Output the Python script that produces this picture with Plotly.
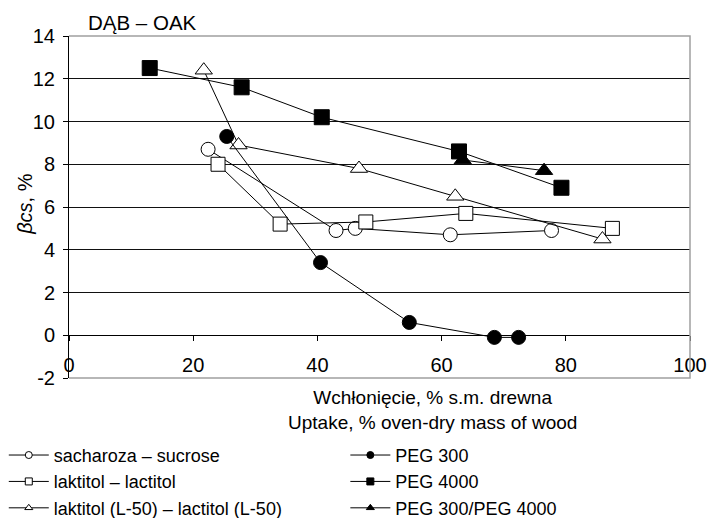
import plotly.graph_objects as go

# Uptake (% oven-dry mass of wood) and beta_cs (%) for oak treated with each agent
sucrose_x = [22.4, 43.0, 46.1, 61.4, 77.7]
sucrose_y = [8.7, 4.9, 5.0, 4.7, 4.9]

lactitol_x = [24.0, 34.0, 47.8, 63.9, 87.5]
lactitol_y = [8.0, 5.2, 5.3, 5.7, 5.0]

lactitol50_x = [21.7, 27.3, 46.7, 62.2, 85.9]
lactitol50_y = [12.4, 8.9, 7.8, 6.5, 4.5]

peg300_x = [25.4, 40.5, 54.8, 68.5, 72.4]
peg300_y = [9.3, 3.4, 0.6, -0.1, -0.1]

peg4000_x = [13.0, 27.8, 40.7, 62.8, 79.3]
peg4000_y = [12.5, 11.6, 10.2, 8.6, 6.9]

pegmix_x = [63.4, 76.5]
pegmix_y = [8.2, 7.7]

series_names = [
    "sacharoza – sucrose",
    "laktitol – lactitol",
    "laktitol (L-50) – lactitol (L-50)",
    "PEG 300",
    "PEG 4000",
    "PEG 300/PEG 4000",
]

x_ticks = [0, 20, 40, 60, 80, 100]
y_ticks = [-2, 0, 2, 4, 6, 8, 10, 12, 14]
y_tick_labels = ["-2", "0", "2", "4", "6", "8", "10", "12", "14"]

FONT = "Liberation Sans, Arial, sans-serif"

# sugar-type agents in the left legend column, PEG agents in the right one
series = [
    (sucrose_x, sucrose_y, series_names[0], "circle", "white", 14, "legend"),
    (lactitol_x, lactitol_y, series_names[1], "square", "white", 14, "legend"),
    (lactitol50_x, lactitol50_y, series_names[2], "triangle-up", "white", 15, "legend"),
    (peg300_x, peg300_y, series_names[3], "circle", "black", 14, "legend2"),
    (peg4000_x, peg4000_y, series_names[4], "square", "black", 15, "legend2"),
    (pegmix_x, pegmix_y, series_names[5], "triangle-up", "black", 15, "legend2"),
]

fig = go.Figure()

for xs, ys, name, sym, fill, size, leg in series:
    fig.add_trace(go.Scatter(
        x=xs, y=ys, mode="lines+markers", name=name, showlegend=False,
        line=dict(color="black", width=1),
        marker=dict(symbol=sym, size=size, color=fill,
                    line=dict(color="black", width=1)),
        cliponaxis=False,
    ))

# legend-only entries with small symbols
for xs, ys, name, sym, fill, size, leg in series:
    fig.add_trace(go.Scatter(
        x=[None], y=[None], mode="lines+markers", name=name, legend=leg,
        line=dict(color="black", width=1),
        marker=dict(symbol=sym, size=7, color=fill,
                    line=dict(color="black", width=1)),
    ))

legend_style = dict(
    orientation="v", xanchor="left", y=-0.172, yanchor="top",
    font=dict(size=18), itemwidth=40, tracegroupgap=0,
    bgcolor="rgba(0,0,0,0)", traceorder="normal",
)

fig.update_layout(
    width=714, height=518,
    margin=dict(l=69, r=24, t=36, b=140, autoexpand=False),
    paper_bgcolor="white", plot_bgcolor="white",
    font=dict(family=FONT, size=20, color="black"),
    xaxis=dict(
        range=[0, 100], tickvals=x_ticks, showgrid=False, zeroline=False,
        showline=True, linecolor="black", linewidth=1,
        ticks="outside", ticklen=5, tickcolor="black",
        anchor="free", position=0.125, ticklabelstandoff=7,
        tickfont=dict(size=20),
    ),
    yaxis=dict(
        range=[-2, 14], tickvals=y_ticks, ticktext=y_tick_labels,
        showgrid=True, gridcolor="#111",
        gridwidth=1, zeroline=False, showline=True, linecolor="black",
        linewidth=1, ticks="outside", ticklen=5, tickcolor="black",
        ticklabelstandoff=4, tickfont=dict(size=20),
    ),
    legend=dict(x=-0.105, **legend_style),
    legend2=dict(x=0.445, **legend_style),
    shapes=[dict(
        type="path", xref="paper", yref="paper",
        path="M 0,1 L 1,1 L 1,0 L 0,0", line=dict(color="#a0a0a0", width=1.5),
        layer="above",
    )],
    annotations=[
        dict(text="DĄB – OAK", xref="paper", yref="paper", x=0.027, y=1.0,
             xanchor="left", yanchor="bottom", showarrow=False,
             font=dict(size=20.5)),
        dict(text="<i>β</i><i>cs</i>, %", xref="paper", yref="paper",
             x=-0.072, y=0.51, xanchor="center", yanchor="middle",
             textangle=-90, showarrow=False, font=dict(size=20)),
        dict(text="Wchłonięcie, % s.m. drewna<br>Uptake, % oven-dry mass of wood",
             xref="paper", yref="paper", x=0.585, y=-0.094,
             xanchor="center", yanchor="middle", showarrow=False,
             font=dict(size=19)),
    ],
)

fig.write_html("out.html")
